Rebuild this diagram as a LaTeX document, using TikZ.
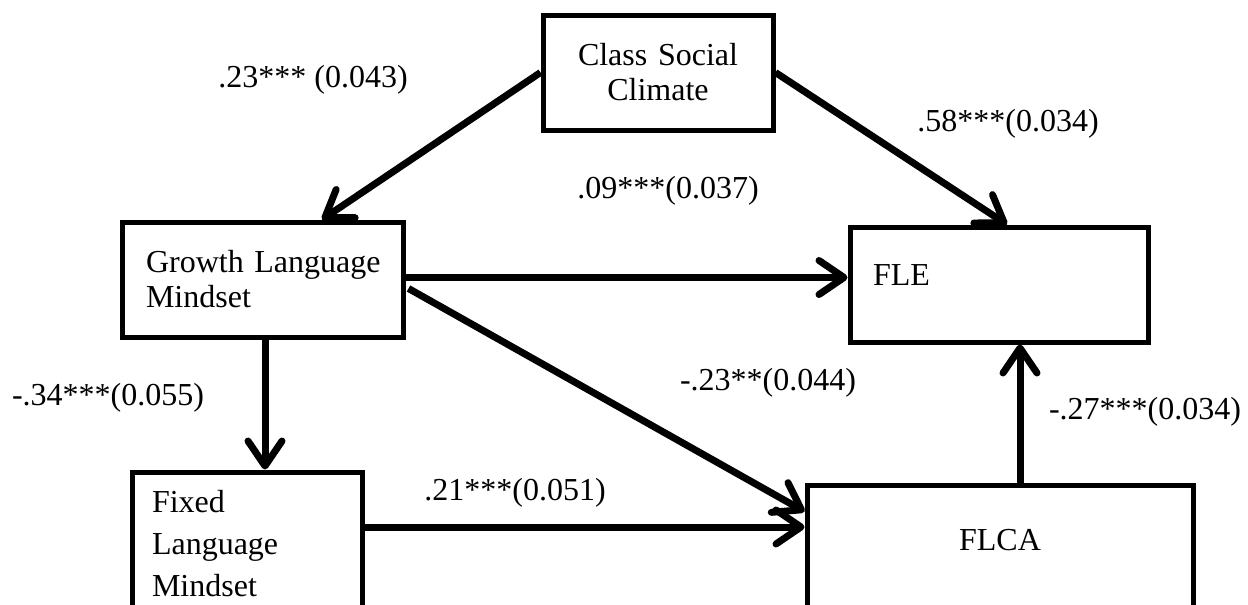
\documentclass[tikz,border=0pt]{standalone}
\usepackage{fontspec}
\setmainfont{Liberation Serif}
\usetikzlibrary{arrows.meta}
\tikzset{
  boxnode/.style={draw, rectangle, line width=5pt, inner sep=0pt, font=\fontsize{32}{35}\selectfont},
  lbl/.style={inner sep=0pt, font=\fontsize{32}{35}\selectfont},
  pathar/.style={line width=7pt, -{Straight Barb[length=25pt,width=34pt,round]}}
}
\begin{document}
\begin{tikzpicture}[x=1pt,y=-1pt]
\useasboundingbox (0,0) rectangle (1248,605);
\clip (0,0) rectangle (1248,605);
% boxes
\node[boxnode, minimum width=230pt, minimum height=115pt, text width=200pt, align=center] (class) at (658,72.5) {Class Social\\Climate};
\node[boxnode, minimum width=281pt, minimum height=115pt, text width=233pt, align=left] (growth) at (262.5,279.5) {\mbox{Growth Language}\\Mindset};
\node[boxnode, minimum width=298pt, minimum height=115pt, text width=252pt, align=left, text depth=18pt] (fle) at (999,284.5) {FLE};
\node[boxnode, minimum width=230pt, minimum height=144pt, text width=190pt, align=left, font=\fontsize{32}{42}\selectfont] (fixed) at (247,544) {Fixed\\Language\\Mindset};
\node[boxnode, minimum width=386pt, minimum height=165pt, text depth=56pt] (flca) at (1000,567.5) {FLCA};
% helper coordinates
\coordinate (gtop) at ([xshift=202.5pt]growth.north west);
\coordinate (ftop) at ([xshift=159.5pt]fle.north west);
\coordinate (gbot) at ([xshift=145.5pt]growth.south west);
\coordinate (fcx) at ([xshift=215.5pt]flca.north west);
\coordinate (gfle) at ([yshift=2pt]growth.east);
\coordinate (flein) at ([yshift=7pt]fle.west);
\coordinate (gdiag) at ([yshift=-9pt,xshift=3pt]growth.east);
\coordinate (fldiag) at ([yshift=-29pt]flca.north west);
\coordinate (fixo) at ([yshift=17pt]fixed.east);
% arrows
\draw[pathar] (class.west) -- (gtop);
\draw[pathar] (class.east) -- (ftop);
\draw[pathar] (gfle) -- (flein);
\draw[pathar] (gdiag) -- (fldiag);
\draw[pathar] (fixo) -- (fixo -| flca.west);
\draw[pathar] (gbot) -- (gbot |- fixed.north);
\draw[pathar] (fcx) -- (fcx |- fle.south);
% labels
\node[lbl] (l1) at (313,80) {.23*** (0.043)};
\node[lbl] (l2) at (1008,124) {.58***(0.034)};
\node[lbl] (l3) at (668,191) {.09***(0.037)};
\node[lbl] (l4) at (108,398) {-.34***(0.055)};
\node[lbl] (l5) at (768,383) {-.23**(0.044)};
\node[lbl] (l6) at (1145,412) {-.27***(0.034)};
\node[lbl] (l7) at (515,493) {.21***(0.051)};
\end{tikzpicture}
\end{document}
